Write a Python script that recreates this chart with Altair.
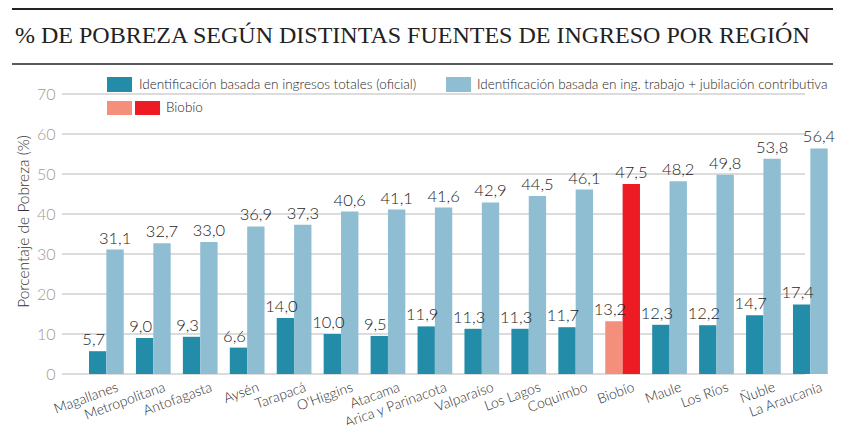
import altair as alt
import pandas as pd

regions = ["Magallanes", "Metropolitana", "Antofagasta", "Aysén", "Tarapacá", "O'Higgins",
           "Atacama", "Arica y Parinacota", "Valparaíso", "Los Lagos", "Coquimbo", "Biobío",
           "Maule", "Los Ríos", "Ñuble", "La Araucanía"]
oficial = [5.7, 9.0, 9.3, 6.6, 14.0, 10.0, 9.5, 11.9, 11.3, 11.3, 11.7, 13.2, 12.3, 12.2, 14.7, 17.4]
trabajo = [31.1, 32.7, 33.0, 36.9, 37.3, 40.6, 41.1, 41.6, 42.9, 44.5, 46.1, 47.5, 48.2, 49.8, 53.8, 56.4]
highlight = "Biobío"
series_names = ["Identificación basada en ingresos totales (oficial)",
                "Identificación basada en ing. trabajo + jubilación contributiva"]
y_ticks = [0, 10, 20, 30, 40, 50, 60, 70]
title_text = "% DE POBREZA SEGÚN DISTINTAS FUENTES DE INGRESO POR REGIÓN"
y_title = "Porcentaje de  Pobreza (%)"

DARK, LIGHT, SALMON, RED = "#238ca9", "#8fbed3", "#f48f7c", "#ed1c24"

rows = []
for r, a, b in zip(regions, oficial, trabajo):
    bio = "_bio" if r == highlight else ""
    rows.append({"region": r, "series": "oficial", "value": a, "key": "oficial" + bio})
    rows.append({"region": r, "series": "trabajo", "value": b, "key": "trabajo" + bio})
df = pd.DataFrame(rows)

FONT = "Lato"
W = 300
yscale = alt.Scale(domain=[0, 70], nice=False)
yaxis = alt.Axis(values=y_ticks, grid=False, domain=False, ticks=False, labelPadding=7,
                 labelFontSize=16, labelColor="#9a9a9a", labelFont=FONT, labelFontWeight=W,
                 title=y_title, titleFont=FONT, titleFontSize=15.5,
                 titleFontWeight=W, titleColor="#333333",
                 titleX=-31, titleY=127)

x_enc = alt.X("region:N", sort=regions,
              scale=alt.Scale(paddingInner=0.26, paddingOuter=0.3975, align=0.724),
              axis=alt.Axis(title=None, labelAngle=-20, labelAlign="right", labelBaseline="top",
                            labelOffset=9, labelPadding=6, labelFont=FONT, labelFontSize=14,
                            labelFontWeight=W,
                            labelColor="#2e2e2e", ticks=False, domain=False, grid=False))
xoff = alt.XOffset("series:N", sort=["oficial", "trabajo"],
                   scale=alt.Scale(paddingInner=0, paddingOuter=0))

grid = alt.Chart(pd.DataFrame({"value": y_ticks})).mark_rule(color="#d0d0d0", strokeWidth=1.5).encode(
    y=alt.Y("value:Q", scale=yscale, axis=yaxis),
    x=alt.value(0), x2=alt.value(743))

bars = alt.Chart(df).mark_bar().encode(
    x=x_enc, xOffset=xoff,
    y=alt.Y("value:Q", scale=yscale, axis=yaxis),
    color=alt.Color("key:N",
                    scale=alt.Scale(domain=["oficial", "trabajo", "oficial_bio", "trabajo_bio"],
                                    range=[DARK, LIGHT, SALMON, RED]),
                    legend=None))

def labels(series, dx):
    return alt.Chart(df).transform_filter(alt.datum.series == series).transform_calculate(
        label="replace(format(datum.value, '.1f'), '.', ',')"
    ).mark_text(font=FONT, fontSize=16.5, fontWeight=W, color="#1e1e1e", baseline="alphabetic",
                dy=-6, dx=dx).encode(
        x=x_enc, xOffset=xoff,
        y=alt.Y("value:Q", scale=yscale, axis=yaxis),
        text="label:N")

one = pd.DataFrame({"a": [0]})

def rect(x1, x2, y1, y2, c):
    return alt.Chart(one).mark_rect(color=c).encode(
        x=alt.value(x1), x2=alt.value(x2), y=alt.value(y1), y2=alt.value(y2))

def txt(xv, yv, t, **kw):
    return alt.Chart(one).mark_text(**kw).encode(x=alt.value(xv), y=alt.value(yv), text=alt.value(t))

def hrule(yv, w):
    return alt.Chart(one).mark_rule(color="#222222", strokeWidth=w).encode(
        x=alt.value(-50), x2=alt.value(771), y=alt.value(yv))

legend_font = dict(font=FONT, fontSize=13.5, fontWeight=W, color="#1e1e1e", align="left",
                   baseline="middle")

layers = [
    grid, bars, labels("oficial", -4), labels("trabajo", 0),
    hrule(-85, 1.8), hrule(-30, 1.5),
    txt(-47, -51, title_text, font="Liberation Serif, DejaVu Serif, serif", fontSize=24,
        color="#222222", align="left", baseline="alphabetic"),
    rect(45, 70, -17, -2, DARK), txt(77, -9.5, series_names[0], **legend_font),
    rect(384, 409, -17, -2, LIGHT), txt(415, -9.5, series_names[1], **legend_font),
    rect(45, 70, 7, 21, SALMON), rect(73, 98, 7, 21, RED), txt(104, 14, highlight, **legend_font),
]

chart = alt.layer(*layers).properties(
    width=776, height=280,
    autosize=alt.AutoSizeParams(type="none"),
    padding={"left": 54, "top": 86, "right": 0, "bottom": 60},
).configure_view(stroke=None)

chart.save("out.html", embed_options={"renderer": "svg", "actions": False})
